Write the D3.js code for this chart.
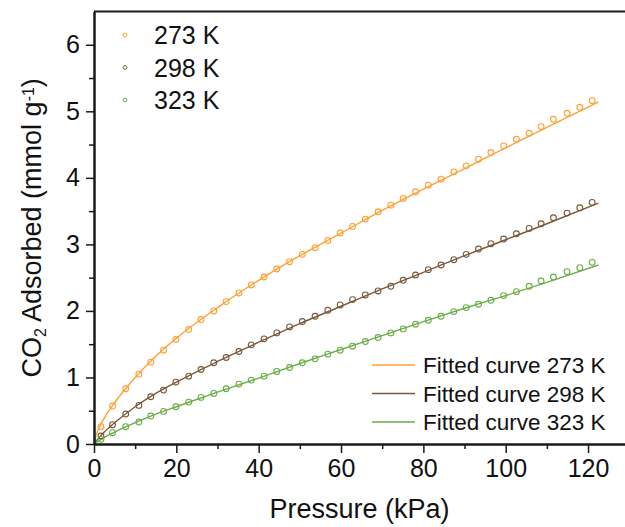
<!DOCTYPE html>
<html>
<head>
<meta charset="utf-8">
<script src="https://cdn.jsdelivr.net/npm/d3@7"></script>
<style>
  html, body { margin: 0; padding: 0; background: #ffffff; }
  svg { display: block; font-family: "Liberation Sans", Arial, sans-serif; }
</style>
</head>
<body>
<svg id="chart" width="625" height="527"></svg>
<script>
// Measured CO2 uptake (mmol/g) versus pressure (kPa) at three temperatures
const pressure = [1.7, 4.5, 7.7, 10.9, 13.8, 16.9, 19.9, 23.0, 26.0, 29.1,
  32.1, 35.2, 38.2, 41.3, 44.4, 47.5, 50.6, 53.7, 56.8, 59.8,
  62.8, 65.9, 69.0, 72.1, 75.1, 78.1, 81.2, 84.3, 87.4, 90.4,
  93.4, 96.4, 99.5, 102.6, 105.7, 108.6, 111.6, 114.9, 118.0, 121.0];

const uptake273 = [0.26, 0.57, 0.83, 1.05, 1.23, 1.41, 1.57, 1.72, 1.87, 2.00,
  2.14, 2.27, 2.39, 2.51, 2.63, 2.74, 2.85, 2.95, 3.06, 3.17,
  3.27, 3.38, 3.49, 3.59, 3.69, 3.79, 3.89, 3.98, 4.09, 4.18,
  4.28, 4.38, 4.48, 4.58, 4.67, 4.77, 4.88, 4.97, 5.06, 5.16];

const uptake298 = [0.12, 0.29, 0.45, 0.58, 0.71, 0.81, 0.93, 1.02, 1.12, 1.22,
  1.30, 1.39, 1.49, 1.58, 1.67, 1.76, 1.84, 1.92, 2.01, 2.09,
  2.17, 2.24, 2.30, 2.37, 2.46, 2.54, 2.62, 2.69, 2.77, 2.85,
  2.93, 3.01, 3.08, 3.16, 3.24, 3.31, 3.40, 3.47, 3.55, 3.63];

const uptake323 = [0.07, 0.17, 0.26, 0.33, 0.42, 0.49, 0.56, 0.63, 0.70, 0.76,
  0.83, 0.90, 0.96, 1.02, 1.09, 1.15, 1.22, 1.28, 1.35, 1.41,
  1.47, 1.54, 1.60, 1.67, 1.73, 1.80, 1.86, 1.92, 1.99, 2.05,
  2.10, 2.16, 2.23, 2.29, 2.37, 2.45, 2.51, 2.59, 2.65, 2.73];

// Fitted isotherm curves, sampled at these pressures
const fitPressure = [0, 0.5, 1, 2.5, 5, 10, 15, 20, 30, 40, 50, 60, 70, 80, 90, 100, 110, 122.5];
const fit273 = [0, 0.13, 0.21, 0.39, 0.62, 1.00, 1.32, 1.59, 2.05, 2.46, 2.83, 3.17, 3.51, 3.83, 4.14, 4.45, 4.76, 5.14];
const fit298 = [0, 0.04, 0.08, 0.18, 0.32, 0.56, 0.76, 0.93, 1.24, 1.53, 1.81, 2.07, 2.33, 2.58, 2.83, 3.07, 3.31, 3.62];
const fit323 = [0, 0.02, 0.04, 0.10, 0.18, 0.32, 0.45, 0.56, 0.78, 0.99, 1.21, 1.42, 1.63, 1.84, 2.04, 2.23, 2.43, 2.69];

const seriesNames = ["273 K", "298 K", "323 K"];
const fitNames = ["Fitted curve 273 K", "Fitted curve 298 K", "Fitted curve 323 K"];
const seriesColors = ["#ffa033", "#7a5a3a", "#6aae48"];

const xMajorTicks = [0, 20, 40, 60, 80, 100, 120];
const xMinorTicks = [10, 30, 50, 70, 90, 110];
const yMajorTicks = [0, 1, 2, 3, 4, 5, 6];
const yMinorTicks = [0.5, 1.5, 2.5, 3.5, 4.5, 5.5];

const svg = d3.select("#chart");
const plotLeft = 94, plotTop = 11.5, plotBottom = 444;

const x = d3.scaleLinear().domain([0, 130]).range([plotLeft, plotLeft + 130 * 4.117]);
const y = d3.scaleLinear().domain([0, 6.5]).range([plotBottom, plotTop]);

const axisColor = "#1a1a1a";

// Fitted curves
const fits = [fit273, fit298, fit323];
const line = d3.line()
  .x((d, i) => x(fitPressure[i]))
  .y(d => y(d))
  .curve(d3.curveMonotoneX);

svg.append("g").selectAll("path")
  .data(fits)
  .join("path")
  .attr("d", d => line(d))
  .attr("fill", "none")
  .attr("stroke", (d, i) => seriesColors[i])
  .attr("stroke-width", 1.4);

// Measured points as open circles
const measured = [uptake273, uptake298, uptake323];
measured.forEach((vals, s) => {
  svg.append("g").selectAll("circle")
    .data(vals)
    .join("circle")
    .attr("cx", (d, i) => x(pressure[i]))
    .attr("cy", d => y(d))
    .attr("r", 2.9)
    .attr("fill", "none")
    .attr("stroke", seriesColors[s])
    .attr("stroke-width", 1.1);
});

// Axes
const xAxisMajor = d3.axisBottom(x).tickValues(xMajorTicks).tickSize(9).tickSizeOuter(0).tickPadding(6).tickFormat(d3.format("d"));
const xAxisMinor = d3.axisBottom(x).tickValues(xMinorTicks).tickSize(5).tickSizeOuter(0).tickFormat("");
const yAxisMajor = d3.axisLeft(y).tickValues(yMajorTicks).tickSize(8).tickSizeOuter(0).tickPadding(6).tickFormat(d3.format("d"));
const yAxisMinor = d3.axisLeft(y).tickValues(yMinorTicks).tickSize(5).tickSizeOuter(0).tickFormat("");

function styleAxis(g, fontSize) {
  g.select(".domain").attr("stroke", axisColor).attr("stroke-width", 2);
  g.selectAll(".tick line").attr("stroke", axisColor).attr("stroke-width", 1.5);
  g.selectAll(".tick text").attr("fill", "#111").style("font-size", fontSize + "px")
    .style("font-family", "'Liberation Sans', Arial, sans-serif");
}

svg.append("g").attr("transform", `translate(0,${plotBottom})`).call(xAxisMinor).call(g => styleAxis(g, 25));
svg.append("g").attr("transform", `translate(0,${plotBottom})`).call(xAxisMajor).call(g => styleAxis(g, 25));
svg.append("g").attr("transform", `translate(${plotLeft},0)`).call(yAxisMinor).call(g => styleAxis(g, 25));
svg.append("g").attr("transform", `translate(${plotLeft},0)`).call(yAxisMajor).call(g => styleAxis(g, 25));

// Top frame line
svg.append("line")
  .attr("x1", plotLeft).attr("x2", 625)
  .attr("y1", plotTop).attr("y2", plotTop)
  .attr("stroke", axisColor).attr("stroke-width", 2);

// Axis titles
svg.append("text")
  .attr("x", (plotLeft + 625) / 2).attr("y", 518)
  .attr("text-anchor", "middle")
  .style("font-size", "27px").attr("fill", "#111")
  .text("Pressure (kPa)");

const yTitle = svg.append("text")
  .attr("transform", `translate(41,${(plotTop + plotBottom) / 2}) rotate(-90)`)
  .attr("text-anchor", "middle")
  .style("font-size", "27px").attr("fill", "#111");
yTitle.append("tspan").text("CO");
yTitle.append("tspan").attr("baseline-shift", "-30%").style("font-size", "16px").text("2");
yTitle.append("tspan").text(" Adsorbed (mmol g");
yTitle.append("tspan").attr("baseline-shift", "45%").style("font-size", "16px").text("-1");
yTitle.append("tspan").text(")");

// Legend for measured points
const legendTop = svg.append("g");
seriesNames.forEach((name, i) => {
  const cy = 35 + i * 32.5;
  legendTop.append("circle")
    .attr("cx", 125).attr("cy", cy).attr("r", 1.9)
    .attr("fill", "none").attr("stroke", seriesColors[i]).attr("stroke-width", 1);
  legendTop.append("text")
    .attr("x", 154).attr("y", cy + 9)
    .style("font-size", "25px").attr("fill", "#111")
    .text(name);
});

// Legend for fitted curves
const legendBottom = svg.append("g");
fitNames.forEach((name, i) => {
  const cy = 365 + i * 28.5;
  legendBottom.append("line")
    .attr("x1", 372).attr("x2", 415)
    .attr("y1", cy).attr("y2", cy)
    .attr("stroke", seriesColors[i]).attr("stroke-width", 1.4);
  legendBottom.append("text")
    .attr("x", 423).attr("y", cy + 8)
    .style("font-size", "22.5px").attr("fill", "#111")
    .text(name);
});
</script>
</body>
</html>
